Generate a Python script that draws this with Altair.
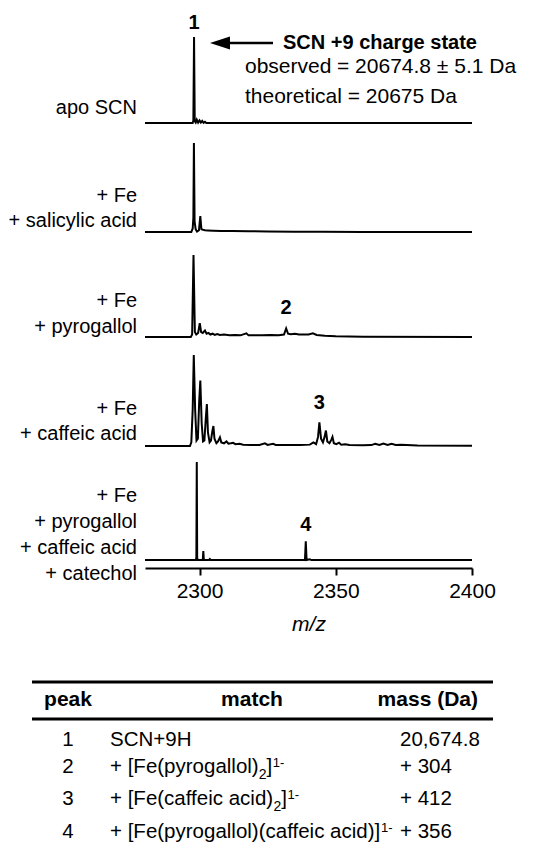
import altair as alt
import pandas as pd

# ---------------- data ----------------
# intensities are relative to the tallest peak of each spectrum (=100)
P1_MZ = [2280, 2297.5, 2297.75, 2298.0, 2298.25, 2298.6, 2299.0, 2299.5, 2300.0, 2300.5,
         2301.0, 2301.5, 2302.0, 2302.5, 2400]
P1_I = [0, 0, 3, 100, 2, 0.5, 4, 0.5, 3, 0.5, 2.5, 0.3, 1.5, 0, 0]

P2_MZ = [2280, 2297.0, 2297.5, 2297.75, 2297.95, 2298.2, 2298.6, 2299.1, 2299.8, 2300.3,
         2300.7, 2301.3, 2302.0, 2303.0, 2305.0, 2308.0, 2312.0, 2318.0, 2325.0, 2335.0,
         2345.0, 2360.0, 2400]
P2_I = [0, 0, 4, 16, 100, 12, 3, 0.5, 2, 18, 3, 2.5, 2, 1.8, 1.5, 1.2, 1.0, 0.8, 0.6, 0.4,
        0.2, 0, 0]

P3_MZ = [2280, 2296.8, 2297.3, 2297.8, 2298.3, 2298.8, 2299.5, 2300.1, 2300.6, 2301.2,
         2302.0, 2302.6, 2303.3, 2304.0, 2304.8, 2305.6, 2306.5, 2307.5, 2309.0, 2311.0,
         2313.0, 2315.0, 2317.2, 2318.0, 2320.0, 2323.0, 2326.0, 2329.0, 2331.0, 2331.8,
         2332.5, 2333.5, 2335.0, 2336.5, 2338.0, 2340.0, 2341.6, 2343.0, 2346.0, 2350.0,
         2360.0, 2400]
P3_I = [0, 0, 3, 100, 6, 3, 5, 17, 6, 5, 8, 4, 5, 3, 4, 2.5, 3.5, 2.5, 3, 2, 2.5, 2, 4.5,
        2, 2.2, 2, 2.4, 2.2, 3, 10.5, 4, 3.5, 4, 3, 3.2, 3, 4.5, 2.5, 1.5, 0.8, 0.3, 0]

P4_MZ = [2280, 2296.5, 2297.0, 2297.5, 2297.9, 2298.4, 2298.9, 2299.4, 2299.9, 2300.3,
         2300.8, 2301.3, 2301.8, 2302.3, 2302.7, 2303.1, 2303.7, 2304.2, 2304.7, 2305.1,
         2305.5, 2306.2, 2306.8, 2307.5, 2308.0, 2309.0, 2309.9, 2310.6, 2311.5, 2312.3,
         2313.2, 2314.7, 2316.0, 2319.0, 2322.0, 2324.0, 2325.0, 2327.0, 2328.0, 2332.0,
         2337.0, 2340.5, 2341.8, 2342.8, 2343.5, 2344.0, 2344.6, 2345.3, 2345.9, 2346.4,
         2346.9, 2347.7, 2348.4, 2348.8, 2349.3, 2350.2, 2351.2, 2352.0, 2353.5, 2355.0,
         2360.0, 2363.0, 2364.5, 2366.0, 2367.5, 2369.0, 2370.5, 2372.0, 2374.0, 2380.0,
         2400]
P4_I = [0, 0, 4, 40, 100, 40, 6, 8, 50, 72, 25, 5, 6, 30, 46, 15, 4, 6, 16, 22,
        8, 3, 5, 9.5, 4, 3, 5, 2.5, 3, 3.5, 2, 2.5, 1.5, 1.2, 1.2, 3, 1.2, 2.5, 1.2, 1.0,
        1.0, 1.5, 4, 2, 10, 26, 8, 4, 10, 17, 5, 3, 7, 10, 3, 2, 3.6, 1.5, 2, 1.0,
        0.8, 1.0, 2.5, 1.2, 2.8, 1.2, 2.5, 1.2, 1.5, 0.5, 0.3]

P5_MZ = [2280, 2298.7, 2298.85, 2299.0, 2299.15, 2299.4, 2301.2, 2301.4, 2301.6, 2303.5,
         2303.8, 2304.1, 2338.7, 2339.0, 2339.3, 2340.5, 2341.0, 2400]
P5_I = [0, 0, 3, 100, 2, 0, 0, 9, 0, 0, 1, 0, 0, 19, 0, 0.8, 0, 0]

SPECTRA = [(P1_MZ, P1_I), (P2_MZ, P2_I), (P3_MZ, P3_I), (P4_MZ, P4_I), (P5_MZ, P5_I)]

SAMPLE_LABELS = [
    ["apo SCN"],
    ["+ Fe", "+ salicylic acid"],
    ["+ Fe", "+ pyrogallol"],
    ["+ Fe", "+ caffeic acid"],
    ["+ Fe", "+ pyrogallol", "+ caffeic acid", "+ catechol"],
]

MZ_DOMAIN = [2280, 2400]
MZ_TICKS = [2300, 2350, 2400]

PEAK_TAGS = ["1", "2", "3", "4"]
PEAK_TAG_MZ = [2298.0, 2331.8, 2344.0, 2339.0]

NOTE_TITLE = "SCN +9 charge state"
NOTE_OBS_NAME = "observed"
NOTE_OBS_VALUE = "= 20674.8 \u00b1 5.1 Da"
NOTE_THEO = "theoretical = 20675 Da"

TABLE_HEADERS = ["peak", "match", "mass (Da)"]
TABLE_PEAK = ["1", "2", "3", "4"]
MATCH_MAIN = ["SCN+9H", "+ [Fe(pyrogallol)", "+ [Fe(caffeic acid)",
              "+ [Fe(pyrogallol)(caffeic acid)]"]
MATCH_SUB = ["", "2", "2", ""]
MATCH_CLOSE = ["", "]", "]", ""]
MATCH_SUP = ["", "1-", "1-", "1-"]
TABLE_MASS = ["20,674.8", "+ 304", "+ 412", "+ 356"]

# ---------------- layout / style ----------------
W, H = 327, 560
PAD = {"left": 137, "top": 0, "right": 77, "bottom": 280}
PANEL_RANGE = [(115, 29), (224, 135), (329, 247), (438, 347), (552, 454)]
LABEL_Y = [[100], [188, 213], [293, 319], [401, 426], [488, 514, 540, 566]]
LABEL_X = -8
TAG_Y = [15, 300, 395, 517]
FONT = "Liberation Sans"
FS = 20        # sample labels, peak tags
FS_NOTE = 21
FS_HEAD = 21
FS_TAB = 20.5
FS_SUB = 14
FS_SUP = 13

TABLE_RULES_Y = [674, 711]
TABLE_RULE_X = (-113, 348)
HEADER_Y = 692
ROW_Y = [732, 759, 791, 824]
COL_PEAK_X = -77
COL_MATCH_X = -35
COL_MATCH_HEAD_X = 107
COL_MASS_X = 255
COL_MASS_HEAD_X = 333

ARROW_Y = 35

# Arial / Liberation Sans advance widths (per em) used to place sub/superscripts
_ADV = {" ": .278, "+": .584, "[": .278, "]": .278, "(": .333, ")": .333, "F": .611,
        "e": .556, "p": .556, "y": .5, "r": .333, "o": .556, "g": .556, "a": .556,
        "l": .222, "c": .5, "f": .278, "i": .222, "d": .556, "S": .667, "C": .722,
        "N": .722, "H": .722, "-": .333}


def text_width(s, size):
    return sum(_ADV.get(ch, .556) for ch in s) * size


xscale = alt.Scale(domain=MZ_DOMAIN, nice=False, zero=False)
xaxis = alt.Axis(values=MZ_TICKS, format="d", title="m/z", grid=False,
                 domainColor="black", domainWidth=2, tickColor="black", tickWidth=2,
                 tickSize=7, labelFont=FONT, labelFontSize=21, labelColor="black",
                 labelPadding=5, labelFlush=False, titleFont=FONT, titleFontSize=21,
                 titleFontStyle="italic", titleFontWeight="normal", titleColor="black",
                 titlePadding=12)

layers = []
for (mz, inten), (base, top) in zip(SPECTRA, PANEL_RANGE):
    df = pd.DataFrame({"mz": mz, "intensity": inten})
    layers.append(
        alt.Chart(df).mark_line(color="black", strokeWidth=2).encode(
            x=alt.X("mz:Q", scale=xscale, axis=xaxis),
            y=alt.Y("intensity:Q",
                    scale=alt.Scale(domain=[0, 100], range=[base, top], nice=False, zero=False),
                    axis=None),
        )
    )

# sample labels on the left
lab_rows = []
for lines, ys in zip(SAMPLE_LABELS, LABEL_Y):
    for t, y in zip(lines, ys):
        lab_rows.append({"t": t, "py": y})
layers.append(
    alt.Chart(pd.DataFrame(lab_rows)).mark_text(
        align="right", baseline="middle", font=FONT, fontSize=FS, color="black"
    ).encode(x=alt.value(LABEL_X), y=alt.Y("py:Q", scale=None), text="t:N")
)

# peak tags
tag_df = pd.DataFrame({"mz": PEAK_TAG_MZ, "t": PEAK_TAGS, "py": TAG_Y})
layers.append(
    alt.Chart(tag_df).mark_text(
        align="center", baseline="middle", font=FONT, fontSize=FS, fontWeight="bold", color="black"
    ).encode(x=alt.X("mz:Q", scale=xscale, axis=xaxis), y=alt.Y("py:Q", scale=None), text="t:N")
)

one = pd.DataFrame({"k": [0]})

# arrow
layers.append(alt.Chart(one).mark_rule(color="black", strokeWidth=2.5).encode(
    x=alt.value(83), x2=alt.value(128), y=alt.value(ARROW_Y)))
layers.append(alt.Chart(one).mark_point(
    shape="M-1,0L1,-0.65L1,0.65Z", size=400, filled=True, color="black", opacity=1, strokeWidth=0
).encode(x=alt.value(75), y=alt.value(ARROW_Y)))


def txt(s, x, y, align="left", weight="normal", size=FS_NOTE):
    return alt.Chart(one).mark_text(
        text=s, align=align, baseline="middle", font=FONT, fontSize=size,
        fontWeight=weight, color="black"
    ).encode(x=alt.value(x), y=alt.value(y))


layers.append(txt(NOTE_TITLE, 138, ARROW_Y, weight="bold", size=20))
layers.append(txt(NOTE_OBS_NAME, 100, 59))
layers.append(txt(NOTE_OBS_VALUE, 192, 59))
layers.append(txt(NOTE_THEO, 100, 89))

# table rules
for ry in TABLE_RULES_Y:
    layers.append(alt.Chart(one).mark_rule(color="black", strokeWidth=3).encode(
        x=alt.value(TABLE_RULE_X[0]), x2=alt.value(TABLE_RULE_X[1]), y=alt.value(ry)))

# table headers
layers.append(txt(TABLE_HEADERS[0], COL_PEAK_X, HEADER_Y, align="center", weight="bold", size=FS_HEAD))
layers.append(txt(TABLE_HEADERS[1], COL_MATCH_HEAD_X, HEADER_Y, align="center", weight="bold", size=FS_HEAD))
layers.append(txt(TABLE_HEADERS[2], COL_MASS_HEAD_X, HEADER_Y, align="right", weight="bold", size=FS_HEAD))

# table body
tb = pd.DataFrame({"peak": TABLE_PEAK, "main": MATCH_MAIN, "mass": TABLE_MASS, "py": ROW_Y})
for field, xx, al in [("peak", COL_PEAK_X, "center"), ("main", COL_MATCH_X, "left"),
                      ("mass", COL_MASS_X, "left")]:
    layers.append(alt.Chart(tb).mark_text(
        align=al, baseline="middle", font=FONT, fontSize=FS_TAB, color="black"
    ).encode(x=alt.value(xx), y=alt.Y("py:Q", scale=None), text=f"{field}:N"))

# subscripts, closing brackets and superscripts placed after the main text
for main, sub, close, sup, ry in zip(MATCH_MAIN, MATCH_SUB, MATCH_CLOSE, MATCH_SUP, ROW_Y):
    xpos = COL_MATCH_X + text_width(main, FS_TAB)
    if sub:
        layers.append(txt(sub, xpos, ry + 8, size=FS_SUB))
        xpos += text_width(sub, FS_SUB)
    if close:
        layers.append(txt(close, xpos, ry, size=FS_TAB))
        xpos += text_width(close, FS_TAB)
    if sup:
        layers.append(txt(sup, xpos + 0.5, ry - 4, size=FS_SUP))

chart = alt.layer(*layers).resolve_scale(y="independent").properties(
    width=W, height=H, autosize=alt.AutoSizeParams(type="none"), padding=PAD,
    background="white"
).configure_view(stroke=None)

chart.save("out.html", embed_options={"renderer": "svg", "actions": False})
